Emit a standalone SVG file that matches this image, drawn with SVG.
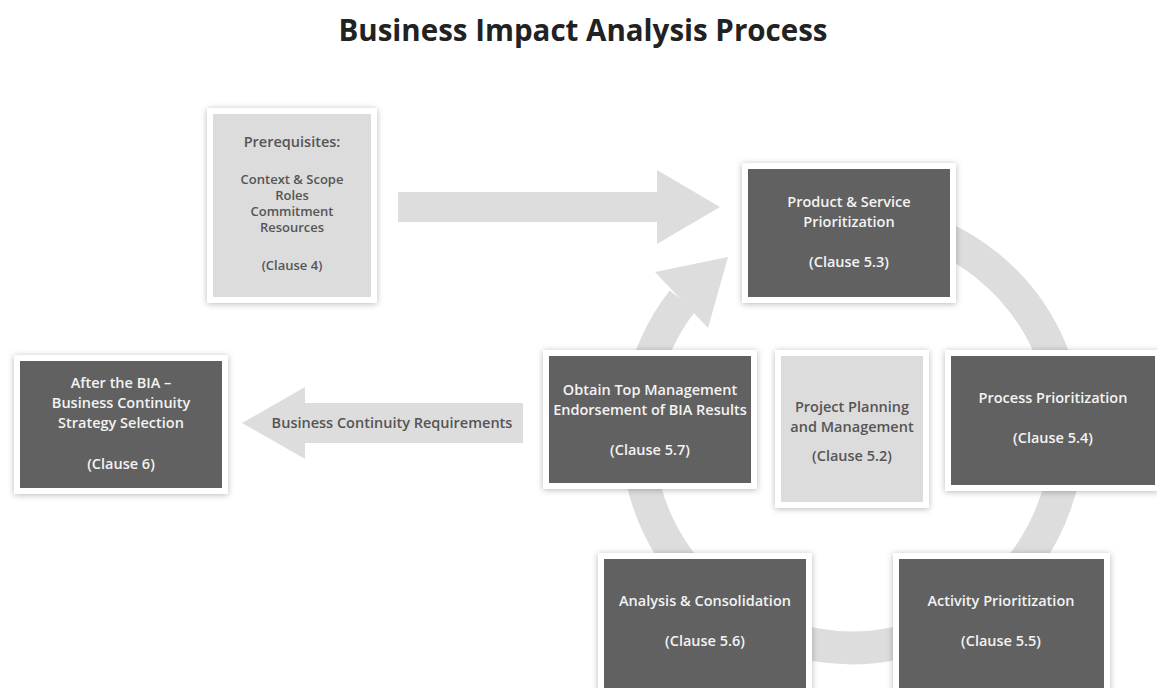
<svg xmlns="http://www.w3.org/2000/svg" width="1157" height="688" viewBox="0 0 1157 688">
<defs>
<filter id="sh" x="-10%" y="-10%" width="120%" height="120%">
<feDropShadow dx="0" dy="1" stdDeviation="3" flood-color="#000" flood-opacity="0.28"/>
</filter>
<style>
.frame{fill:#ffffff;filter:url(#sh)}
.dark{fill:#616161}
.light{fill:#dcdcdc}
.arrow{fill:#dddddd}
.ring{fill:none;stroke:#dddddd;stroke-width:33}
.t{font-family:"Open Sans","Liberation Sans",sans-serif;font-weight:600;font-size:14.5px;text-anchor:middle}
.tw{fill:#f3f3f3}
.tg{fill:#555555}
.ts{font-size:13px}
.title{font-family:"Open Sans","Liberation Sans",sans-serif;font-weight:700;font-size:29.5px;fill:#222222;text-anchor:middle}
</style>
</defs>
<rect width="1157" height="688" fill="#ffffff"/>
<text class="title" x="583" y="41">Business Impact Analysis Process</text>

<g id="connectors">
<path class="arrow" d="M398,192 H657 V170 L720,207 L657,244 V222 H398 Z"/>
<path class="ring" d="M796.4,225.3 A215,215 0 1 1 682.7,300.7"/>
<polygon class="arrow" points="655,272 728,257 708,328"/>
<path class="arrow" d="M523,403 H305 V387 L242,423 L305,459 V443 H523 Z"/>
<text class="t tg" x="392" y="428">Business Continuity Requirements</text>
</g>

<g id="prerequisites">
<rect class="frame" x="207" y="108" width="170" height="195"/>
<rect class="light" x="213" y="114" width="158" height="183"/>
<text class="t tg" x="292" y="147">Prerequisites:</text>
<text class="t tg ts" x="292" y="184">Context &amp; Scope</text>
<text class="t tg ts" x="292" y="200">Roles</text>
<text class="t tg ts" x="292" y="216">Commitment</text>
<text class="t tg ts" x="292" y="232">Resources</text>
<text class="t tg ts" x="292" y="270">(Clause 4)</text>
</g>

<g id="product-service">
<rect class="frame" x="742" y="163" width="214" height="140"/>
<rect class="dark" x="748" y="169" width="202" height="128"/>
<text class="t tw" x="849" y="207">Product &amp; Service</text>
<text class="t tw" x="849" y="227">Prioritization</text>
<text class="t tw" x="849" y="267">(Clause 5.3)</text>
</g>

<g id="after-bia">
<rect class="frame" x="14" y="355" width="214" height="139"/>
<rect class="dark" x="20" y="361" width="202" height="127"/>
<text class="t tw" x="121" y="388">After the BIA –</text>
<text class="t tw" x="121" y="408">Business Continuity</text>
<text class="t tw" x="121" y="428">Strategy Selection</text>
<text class="t tw" x="121" y="469">(Clause 6)</text>
</g>

<g id="obtain-endorsement">
<rect class="frame" x="543" y="350" width="214" height="139"/>
<rect class="dark" x="549" y="356" width="202" height="127"/>
<text class="t tw" x="650" y="395">Obtain Top Management</text>
<text class="t tw" x="650" y="415">Endorsement of BIA Results</text>
<text class="t tw" x="650" y="455">(Clause 5.7)</text>
</g>

<g id="project-planning">
<rect class="frame" x="775" y="350" width="154" height="158"/>
<rect class="light" x="781" y="356" width="142" height="146"/>
<text class="t tg" x="852" y="412">Project Planning</text>
<text class="t tg" x="852" y="432">and Management</text>
<text class="t tg" x="852" y="461">(Clause 5.2)</text>
</g>

<g id="process-prioritization">
<rect class="frame" x="945" y="350" width="215" height="141"/>
<rect class="dark" x="951" y="356" width="204" height="129"/>
<text class="t tw" x="1053" y="403">Process Prioritization</text>
<text class="t tw" x="1053" y="443">(Clause 5.4)</text>
</g>

<g id="analysis-consolidation">
<rect class="frame" x="598" y="553" width="214" height="145"/>
<rect class="dark" x="604" y="559" width="202" height="135"/>
<text class="t tw" x="705" y="606">Analysis &amp; Consolidation</text>
<text class="t tw" x="705" y="646">(Clause 5.6)</text>
</g>

<g id="activity-prioritization">
<rect class="frame" x="893" y="553" width="217" height="145"/>
<rect class="dark" x="899" y="559" width="205" height="135"/>
<text class="t tw" x="1001" y="606">Activity Prioritization</text>
<text class="t tw" x="1001" y="646">(Clause 5.5)</text>
</g>
</svg>
